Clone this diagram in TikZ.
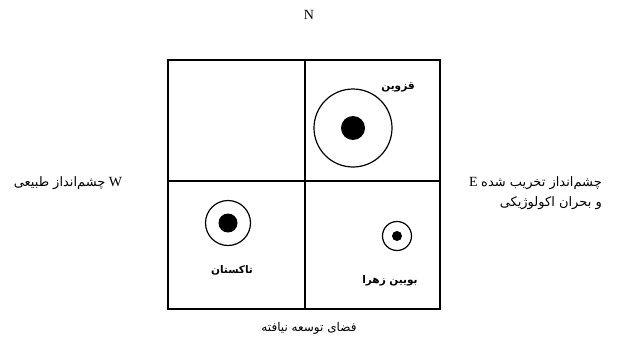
\documentclass[tikz,border=0pt]{standalone}
\usepackage{fontspec}
\setmainfont{Liberation Serif}
\newfontfamily\fa[Script=Arabic]{DejaVu Sans}
\TeXXeTstate=1
\newcommand\fasize{\fa\fontsize{13}{20}\selectfont}
\begin{document}
\begin{tikzpicture}[x=1pt,y=1pt,
  frame/.style={line width=2pt},
  ring/.style={circle,draw,line width=1.2pt,inner sep=0pt},
  dot/.style={circle,fill=black,inner sep=0pt},
  lbl/.style={font=\fa\bfseries\fontsize{10.5}{12}\selectfont,inner sep=0pt},
  side/.style={font=\fontsize{14}{20}\selectfont,inner sep=0pt},
  fatext/.style={font=\fa\fontsize{12}{20}\selectfont,inner sep=0pt}]
\useasboundingbox (0,0) rectangle (621,-345);
% frame
\coordinate (tl) at (168,-60);
\coordinate (br) at (440,-309);
\coordinate (vt) at (305,-60);
\coordinate (vb) at (305,-309);
\coordinate (hl) at (168,-181);
\coordinate (hr) at (440,-181);
\draw[frame] (tl) rectangle (br);
\draw[frame] (vt) -- (vb);
\draw[frame] (hl) -- (hr);
% Qazvin
\node[ring,minimum size=78pt] (qr) at (353,-128) {};
\node[dot,minimum size=24pt] (qd) at (353,-128) {};
\node[lbl] (ql) at (398,-87) {\beginR قزوین\endR};
% Takestan
\node[ring,minimum size=45pt] (tr) at (228,-223) {};
\node[dot,minimum size=19pt] (td) at (228,-223) {};
\node[lbl] (tlb) at (232,-270) {\beginR تاکستان\endR};
% Buin Zahra
\node[ring,minimum size=29pt] (br2) at (397,-236) {};
\node[dot,minimum size=10pt] (bd) at (397,-236) {};
\node[lbl] (bl) at (390,-281) {\beginR بویین زهرا\endR};
% directions
\node[side] (N) at (309,-15) {N};
\node[side] (W) at (68,-183) {{\fasize\beginR چشم‌انداز طبیعی\endR} W};
\node[side,align=right,anchor=east] (E) at (602,-193) {E {\fasize\beginR چشم‌انداز تخریب شده\endR}\\{\fasize\beginR و بحران اکولوژیکی\endR}};
\node[fatext] (S) at (309,-328) {\beginR فضای توسعه نیافته\endR};
\end{tikzpicture}
\end{document}
